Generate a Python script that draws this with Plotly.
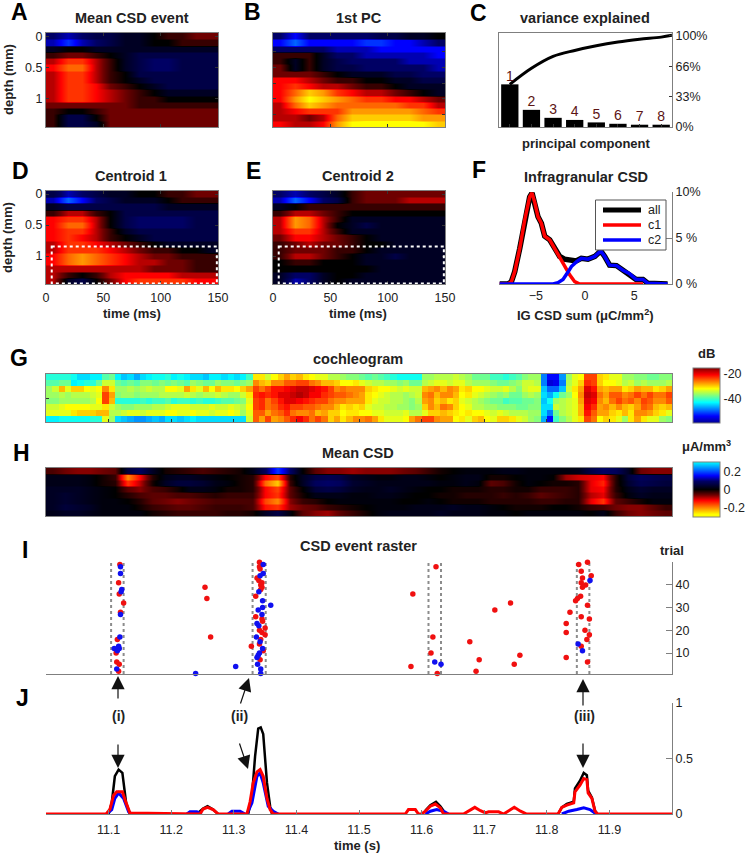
import numpy as np
import plotly.graph_objects as go

W, H = 746, 853
GRAY = "#7f7f7f"
INK = "#222222"
FONT = "Liberation Sans"

# depth/time grid shared by the four CSD panels (A, B, D, E)
CSD_TIME = [6, 19, 31, 44, 56, 69, 81, 94, 106, 119, 131, 144]
CSD_DEPTH = [0, 0.1, 0.2, 0.3, 0.4, 0.5, 0.6, 0.7, 0.8, 0.9, 1.0, 1.1, 1.2, 1.3, 1.4]

MEAN_EVENT = [
    [3, 4, 3, 2, 2, 1, 1, 0, -1, -1, -2, -2],
    [4, 6, 4, 3, 2, 1, 1, 0, 0, -1, -1, -1],
    [1, 0, 0, 1, 1, 1, 1, 1, 1, 1, 1, 1],
    [-1, -2, -2, -1, 0, 1, 2, 2, 2, 2, 2, 2],
    [-3, -5, -5, -3, -1, 1, 2, 3, 3, 2, 2, 2],
    [-4, -6, -6, -3, -1, 1, 2, 3, 3, 2, 2, 2],
    [-3, -5, -5, -3, -1, 0, 2, 2, 2, 2, 2, 2],
    [-3, -5, -5, -3, -1, 0, 1, 2, 2, 2, 2, 2],
    [-3, -5, -5, -4, -2, -1, 0, 1, 2, 2, 2, 2],
    [-3, -5, -5, -4, -3, -2, -1, 0, 1, 1, 1, 1],
    [-3, -5, -5, -4, -3, -2, -1, -1, 0, 0, 0, 0],
    [-2, -2, -2, -2, -2, -2, -1, -1, -1, -1, -1, -1],
    [-1, 0, 0, -1, -2, -2, -2, -2, -2, -2, -2, -2],
    [-1, 2, 2, 0, -2, -2, -2, -2, -2, -2, -2, -2],
    [-1, 2, 2, 1, -2, -2, -2, -2, -2, -2, -2, -2],
]
FIRST_PC = [
    [3, 5, 3, 3, 3, 3, 3, 2, 2, 1, 1, 0],
    [5, 7, 5, 5, 5, 5, 6, 6, 5, 5, 4, 3],
    [3, 3, 3, 3, 4, 4, 4, 5, 5, 5, 5, 5],
    [-1, -1, -1, 1, 3, 3, 4, 4, 4, 4, 4, 5],
    [-1, 1, -1, 1, 2, 3, 3, 3, 3, 4, 4, 4],
    [-2, 1, -1, 1, 2, 2, 3, 3, 3, 3, 3, 4],
    [-2, -2, -2, -1, 0, 1, 1, 1, 2, 2, 3, 3],
    [-4, -4, -3, -2, -1, -1, 0, 0, 1, 1, 2, 2],
    [-4, -5, -4, -3, -3, -2, -1, -1, 0, 1, 1, 1],
    [-4, -6, -8, -7, -5, -4, -3, -3, -2, -1, 0, 1],
    [-4, -7, -9, -8, -7, -6, -5, -5, -4, -4, -3, -2],
    [-3, -6, -8, -7, -6, -6, -6, -6, -6, -5, -5, -3],
    [-3, -4, -5, -5, -5, -7, -7, -7, -7, -7, -6, -5],
    [-3, -3, -2, -3, -6, -8, -8, -8, -8, -8, -7, -7],
    [-4, -3, -3, -4, -7, -9, -10, -10, -10, -10, -9, -8],
]
CENTROID_1 = [
    [2, 4, 3, 2, 1, 1, 0, 0, -1, -1, -2, -2],
    [4, 7, 5, 3, 2, 1, 1, 1, 0, -1, -1, -1],
    [1, 2, 2, 2, 2, 2, 2, 2, 1, 1, 1, 1],
    [-1, -3, -3, -1, 0, 2, 2, 2, 2, 2, 2, 2],
    [-4, -5, -5, -3, 0, 2, 3, 3, 3, 3, 2, 2],
    [-4, -6, -6, -3, 0, 2, 3, 3, 3, 3, 2, 2],
    [-4, -5, -5, -3, -1, 1, 2, 2, 2, 2, 2, 2],
    [-4, -5, -4, -3, -1, 0, 1, 2, 2, 2, 2, 2],
    [-3, -5, -5, -4, -3, -2, -1, 0, 1, 1, 1, 1],
    [-3, -5, -5, -5, -4, -3, -2, -1, -1, 0, 0, 1],
    [-4, -6, -7, -6, -5, -4, -3, -2, -2, -1, -1, -1],
    [-4, -6, -7, -6, -5, -4, -3, -3, -2, -2, -1, -1],
    [-3, -3, -3, -3, -3, -3, -3, -2, -2, -2, -1, -1],
    [-3, -1, 0, -1, -3, -4, -4, -4, -4, -3, -3, -3],
    [-3, 1, 2, 0, -2, -4, -5, -5, -5, -5, -4, -4],
]
CENTROID_2 = [
    [3, 4, 3, 2, 1, -1, -2, -2, -2, -2, -2, -2],
    [4, 7, 5, 3, 2, -1, -2, -2, -2, -3, -3, -3],
    [1, 0, -1, -1, -1, -1, -1, -1, -1, -1, -1, -1],
    [-1, -3, -3, -2, -1, 0, 0, 0, 0, 0, 0, 0],
    [-3, -7, -6, -3, -1, 1, 1, 1, 1, 1, 1, 1],
    [-3, -7, -6, -3, 0, 1, 2, 1, 1, 1, 1, 1],
    [-3, -5, -5, -3, -1, 1, 1, 1, 1, 1, 1, 1],
    [-2, -4, -4, -3, -2, -1, 0, 1, 1, 1, 1, 1],
    [-1, -2, -3, -2, -2, -1, 0, 0, 1, 1, 1, 1],
    [-1, -2, -2, -2, -1, -1, 0, 1, 1, 1, 1, 1],
    [-1, -3, -3, -2, -1, 0, 1, 1, 2, 1, 1, 1],
    [0, -1, -1, 0, 0, 0, 1, 1, 1, 1, 1, 1],
    [0, 0, 0, 0, 0, 0, 0, 1, 1, 1, 1, 1],
    [1, 3, 3, 1, 0, 0, 1, 1, 1, 1, 1, 1],
    [1, 4, 3, 1, 0, 1, 1, 1, 1, 1, 1, 1],
]

# C: variance explained
PC_INDEX = [1, 2, 3, 4, 5, 6, 7, 8]
PC_VAR = [46.5, 18.7, 10, 7.7, 5, 3.5, 2.5, 2.5]
PC_CUM_X = [1, 2, 3, 4, 5, 6, 7, 8, 8.5]
PC_CUM = [46.5, 64, 77, 83.5, 88.6, 92.6, 95.6, 98, 100]

# F: infragranular CSD histograms
C1_X = [-8.68, -7.83, -7.49, -7.15, -6.64, -6.14, -5.63, -5.39, -5.12, -4.78, -4.44, -4.1, -3.59, -3.08, -2.58,
        -2.07, -1.56, -1.05, -0.54, 5.9]
C1_Y = [0, 0, 0.25, 1.34, 3.86, 6.93, 9.46, 9.89, 8.9, 7.3, 6.6, 5.2, 4.8, 3.8, 2.9, 1.9, 1.0, 0.25, 0, 0]
C2_X = [-8.68, -3.25, -2.75, -2.24, -1.73, -1.39, -0.88, -0.37, 0.3, 1.0, 1.6, 2.0, 2.5, 3.2, 3.86, 4.5, 5.2, 5.9,
        6.4, 8.4]
C2_Y = [0, 0, 0.15, 0.5, 1.3, 1.9, 2.4, 2.8, 2.7, 3.0, 3.6, 3.0, 2.05, 2.0, 1.5, 1.15, 0.5, 0.5, 0.07, 0]
ALL_X = [-8.68, -7.83, -7.49, -7.15, -6.64, -6.14, -5.63, -5.39, -5.12, -4.78, -4.44, -4.1, -3.59, -3.08, -2.58,
         -2.1, -1.7, -1.3, -0.9, -0.37, 0.3, 1.0, 1.6, 2.0, 2.5, 3.2, 3.86, 4.5, 5.2, 5.9, 6.4, 8.4]
ALL_Y = [0, 0, 0.25, 1.34, 3.86, 6.93, 9.46, 9.89, 8.9, 7.3, 6.6, 5.2, 4.8, 3.8, 3.0,
         2.7, 2.6, 2.65, 2.5, 2.8, 2.7, 3.0, 3.6, 3.0, 2.05, 2.0, 1.5, 1.15, 0.5, 0.5, 0.07, 0]
LEGEND_ITEMS = [("all", "black", 5), ("c1", "#ff0000", 3.5), ("c2", "#0000ff", 3.5)]

# G: cochleogram, dB, 8 bands x 100 bins of 10 ms
COCHLEOGRAM = [
    [-41, -41, -41, -41, -42, -44, -44, -43, -43, -39, -38, -43, -45, -44, -46, -44, -43, -42, -42, -41,
     -43, -42, -43, -44, -44, -45, -43, -43, -44, -43, -44, -43, -40, -31, -31, -34, -32, -30, -28, -30,
     -29, -31, -32, -33, -33, -35, -35, -36, -37, -37, -38, -39, -38, -39, -40, -41, -42, -42, -42, -42,
     -36, -36, -35, -35, -35, -34, -35, -36, -38, -38, -38, -40, -40, -41, -40, -39, -37, -36, -36, -48,
     -53, -53, -47, -36, -33, -32, -24, -24, -30, -31, -33, -33, -36, -36, -37, -37, -38, -38, -37, -37],
    [-39, -39, -38, -38, -43, -42, -41, -41, -38, -34, -34, -38, -39, -38, -39, -37, -37, -38, -37, -38,
     -37, -38, -39, -36, -37, -38, -38, -36, -37, -37, -38, -37, -36, -27, -29, -30, -27, -27, -25, -25,
     -24, -24, -26, -27, -29, -29, -30, -32, -32, -31, -33, -34, -35, -35, -36, -36, -37, -36, -38, -38,
     -35, -34, -33, -33, -34, -33, -33, -35, -36, -36, -36, -37, -38, -38, -37, -36, -34, -34, -35, -48,
     -55, -54, -48, -35, -33, -30, -23, -24, -30, -32, -32, -33, -35, -34, -36, -35, -36, -36, -36, -35],
    [-36, -34, -29, -33, -30, -30, -32, -33, -32, -27, -31, -36, -36, -35, -36, -35, -34, -35, -35, -32,
     -32, -33, -28, -31, -33, -29, -32, -29, -31, -31, -32, -30, -28, -24, -26, -24, -22, -22, -21, -20,
     -19, -19, -20, -21, -22, -24, -27, -26, -27, -27, -27, -30, -31, -32, -32, -33, -34, -33, -34, -34,
     -29, -28, -27, -29, -27, -28, -31, -30, -32, -32, -33, -34, -34, -33, -35, -37, -34, -33, -33, -45,
     -49, -49, -45, -34, -31, -28, -20, -22, -28, -29, -28, -28, -31, -30, -28, -29, -29, -31, -30, -28],
    [-36, -36, -35, -36, -35, -35, -35, -34, -33, -24, -28, -37, -36, -36, -37, -36, -36, -36, -35, -35,
     -35, -35, -34, -35, -36, -35, -35, -34, -35, -36, -36, -34, -31, -23, -22, -23, -22, -20, -20, -19,
     -18, -19, -21, -21, -23, -24, -25, -25, -26, -27, -28, -31, -32, -33, -34, -35, -35, -36, -35, -34,
     -27, -26, -29, -27, -27, -29, -32, -31, -33, -34, -35, -36, -37, -36, -38, -38, -36, -35, -36, -44,
     -46, -42, -38, -36, -32, -27, -19, -20, -26, -28, -25, -25, -27, -26, -24, -26, -24, -26, -26, -24],
    [-37, -37, -36, -36, -36, -36, -36, -35, -32, -24, -29, -41, -41, -41, -41, -40, -41, -40, -40, -39,
     -41, -40, -40, -41, -40, -41, -41, -40, -39, -39, -38, -37, -33, -24, -23, -26, -24, -22, -20, -20,
     -21, -22, -23, -24, -24, -26, -27, -27, -28, -28, -28, -31, -33, -34, -34, -35, -35, -36, -37, -35,
     -28, -27, -30, -29, -31, -30, -33, -34, -35, -36, -37, -38, -38, -40, -39, -39, -38, -38, -37, -45,
     -42, -36, -35, -34, -33, -28, -20, -21, -27, -29, -26, -24, -26, -25, -27, -24, -25, -27, -27, -25],
    [-34, -34, -33, -32, -32, -32, -32, -33, -33, -31, -34, -36, -37, -37, -36, -36, -36, -35, -35, -34,
     -33, -33, -33, -34, -34, -34, -33, -34, -34, -33, -34, -35, -32, -24, -23, -26, -25, -23, -22, -24,
     -24, -25, -25, -26, -27, -27, -29, -31, -30, -31, -30, -33, -34, -34, -35, -35, -36, -36, -37, -36,
     -30, -27, -29, -26, -27, -30, -32, -33, -35, -35, -36, -36, -37, -37, -37, -38, -38, -37, -37, -44,
     -44, -34, -35, -34, -33, -29, -21, -23, -28, -27, -29, -27, -29, -30, -28, -25, -26, -29, -30, -29],
    [-33, -33, -33, -33, -31, -30, -30, -30, -29, -29, -35, -35, -34, -33, -33, -34, -33, -33, -33, -32,
     -32, -33, -33, -32, -33, -33, -34, -33, -33, -32, -33, -36, -33, -25, -25, -28, -26, -25, -23, -26,
     -27, -27, -26, -29, -28, -30, -30, -32, -31, -31, -32, -32, -33, -33, -34, -34, -34, -33, -35, -35,
     -33, -30, -30, -29, -30, -31, -32, -31, -32, -32, -33, -34, -33, -34, -35, -35, -35, -36, -36, -44,
     -48, -38, -35, -34, -33, -29, -22, -25, -28, -28, -30, -31, -29, -31, -27, -27, -28, -30, -31, -33],
    [-43, -43, -42, -42, -42, -42, -42, -41, -41, -33, -36, -44, -45, -46, -47, -47, -46, -45, -46, -44,
     -44, -45, -44, -43, -44, -44, -44, -44, -44, -44, -44, -44, -34, -25, -28, -24, -28, -27, -25, -23,
     -21, -23, -26, -24, -26, -30, -28, -31, -29, -27, -27, -26, -28, -31, -33, -33, -33, -32, -28, -26,
     -24, -24, -27, -28, -28, -32, -31, -33, -30, -29, -32, -33, -30, -30, -31, -33, -34, -36, -37, -46,
     -53, -40, -37, -35, -33, -31, -24, -26, -32, -30, -31, -33, -36, -31, -28, -31, -33, -33, -36, -37],
]

# H: mean CSD, hundredths of uA/mm3, 8 rows x 50 bins of 20 ms
MEAN_CSD = [
    [-4, -6, -7, -7, -6, -5, 5, 8, 3, -1, -2, -3, -4, -3, -2, -1, 2, 8, 18, 9, 0, -5, -7, -7, -8,
     -7, -7, -7, -6, -5, -3, -1, 0, 1, 1, 1, 2, 2, 1, 1, 1, 1, 2, 6, 9, 8, 3, -6, -7, -7],
    [2, 2, 2, 1, -1, -3, -20, -12, -2, 2, 3, 3, 2, 1, 0, -1, -2, -12, -16, -2, 3, 6, 7, 6, 3,
     2, 1, 1, 2, 2, 1, 0, 1, 2, 2, -1, -1, 0, 1, 1, 0, -8, -10, -11, -12, -2, 5, 8, 7, 6],
    [2, 2, 2, 1, -1, -2, -15, -9, -1, 3, 5, 5, 4, 2, 1, -1, -2, -18, -24, -3, 3, 8, 9, 8, 4,
     3, 2, 2, 2, 2, 2, 1, 1, 2, 1, -5, -4, -1, 1, 0, -1, -1, -2, -11, -14, -2, 4, 7, 6, 5],
    [3, 3, 3, 2, 1, 0, -5, -7, -4, -3, -1, 2, 2, 1, -1, -1, -2, -12, -16, -5, 0, 5, 6, 5, 3,
     2, 2, 3, 2, 1, 0, 0, -1, -1, -1, -2, -2, -1, -1, -3, -3, -3, -2, -11, -12, -2, 2, 4, 3, 3],
    [3, 4, 3, 2, 1, 0, -2, -4, -5, -5, -4, -4, -3, -2, -3, -3, -3, -12, -15, -5, -1, 2, 2, 2, 1,
     1, 2, 2, 1, 0, 0, -1, -1, -2, -2, -2, -3, -2, -3, -5, -4, -3, -2, -9, -11, -3, 1, 3, 2, 2],
    [3, 4, 3, 2, 1, 1, 0, -2, -5, -6, -7, -6, -5, -4, -4, -4, -4, -16, -20, -7, -3, -2, 0, 1, 1,
     1, 1, 1, 0, 0, 1, 0, -1, -1, -1, -2, -2, -2, -2, -3, -3, -2, -2, -11, -15, -5, -3, -1, 1, 1],
    [3, 5, 4, 3, 1, 1, 1, -1, -3, -4, -5, -5, -4, -3, -3, -3, -4, -13, -15, -8, -6, -5, -3, -2, -1,
     0, 1, 1, 1, 2, 2, 2, 3, 2, 2, 1, 0, -1, -1, -1, 0, 0, -1, -3, -4, -6, -7, -7, -5, -3],
    [2, 3, 3, 2, 1, 1, 1, 1, -1, -2, -3, -3, -3, -3, -2, -2, -1, 3, 6, 1, -5, -7, -8, -5, -3,
     -1, 1, 2, 2, 2, 2, 3, 2, 2, 2, 1, 1, 0, 1, 1, 1, 1, 1, 0, 2, -3, -6, -7, -6, -5],
]

# I: raster, event time (s) and trial number
RED_T = [11.118, 11.116, 11.117, 11.124, 11.119, 11.114, 11.112, 11.113, 11.117, 11.116,
         11.254, 11.257, 11.263,
         11.341, 11.341, 11.342, 11.337, 11.340, 11.345, 11.343, 11.345, 11.343, 11.335, 11.335, 11.345, 11.346,
         11.350, 11.341, 11.345, 11.350, 11.343, 11.341, 11.328, 11.347, 11.342,
         11.586, 11.583, 11.623, 11.618, 11.615, 11.625, 11.677, 11.717, 11.742, 11.692, 11.687, 11.757, 11.748,
         11.851, 11.865, 11.855, 11.871, 11.857, 11.855, 11.862, 11.857, 11.854, 11.849, 11.846, 11.865, 11.837,
         11.855, 11.868, 11.831, 11.861, 11.831, 11.868, 11.864, 11.855, 11.831, 11.865]
RED_TRIAL = [49, 41, 36, 32, 28, 16, 10, 6, 5, 2,
             39, 34, 17,
             50, 48, 47, 43, 42, 41, 40, 39, 38, 35, 26, 25, 24,
             21, 20, 19, 18, 16, 14, 13, 11, 7,
             36, 4, 48, 17, 10, 1, 15, 29, 32, 7, 2, 9, 5,
             49, 50, 46, 44, 43, 41, 40, 39, 35, 34, 33, 31, 28,
             26, 25, 23, 20, 19, 18, 16, 13, 8, 6]
BLUE_T = [11.119, 11.119, 11.121, 11.120, 11.119, 11.118, 11.116, 11.109, 11.117, 11.114, 11.113,
          11.239, 11.303,
          11.347, 11.347, 11.342, 11.340, 11.346, 11.359, 11.346, 11.339, 11.345, 11.337, 11.340, 11.336, 11.342,
          11.346, 11.341, 11.339, 11.337, 11.338, 11.343, 11.343,
          11.621, 11.631, 11.869, 11.850, 11.857]
BLUE_TRIAL = [48, 45, 38, 37, 27, 17, 13, 12, 12, 11, 3,
              1, 4,
              49, 45, 44, 37, 33, 31, 30, 29, 27, 23, 22, 17, 15,
              12, 10, 9, 8, 5, 3, 1,
              6, 5, 42, 14, 11]
WINDOWS = [(11.104, 11.124), (11.330, 11.351), (11.611, 11.631), (11.848, 11.868)]

# J: population traces
BLACK_T = [11.100, 11.105, 11.110, 11.116, 11.122, 11.128, 11.134, None,
           11.241, 11.251, 11.258, 11.267, 11.275, None,
           11.323, 11.329, 11.334, 11.339, 11.343, 11.347, 11.353, 11.358, 11.361, None,
           11.606, 11.614, 11.623, 11.630, 11.635, None,
           11.818, 11.824, 11.832, 11.843, 11.845, 11.853, 11.859, 11.864, 11.866, 11.872, 11.877, 11.881]
BLACK_Y = [0, 0.10, 0.34, 0.40, 0.37, 0.10, 0, None,
           0, 0.05, 0.07, 0.04, 0, None,
           0, 0.16, 0.52, 0.77, 0.78, 0.72, 0.28, 0.07, 0, None,
           0.03, 0.08, 0.11, 0.07, 0.03, None,
           0, 0.06, 0.09, 0.11, 0.23, 0.30, 0.37, 0.35, 0.21, 0.15, 0.03, 0]
BLUE_LINE_T = [11.097, 11.105, 11.110, 11.116, 11.124, 11.132, 11.137, None,
               11.225, 11.230, 11.241, 11.249, None, 11.291, 11.297, 11.310, 11.318, None,
               11.321, 11.329, 11.337, 11.342, 11.347, 11.355, 11.363, 11.371, None,
               11.606, 11.614, 11.624, 11.635, 11.643, None,
               11.824, 11.835, 11.848, 11.859, 11.869, 11.879]
BLUE_LINE_Y = [0, 0.04, 0.14, 0.19, 0.14, 0.02, 0, None,
               0, 0.02, 0.02, 0, None, 0, 0.025, 0.025, 0, None,
               0, 0.10, 0.34, 0.37, 0.28, 0.07, 0.025, 0, None,
               0, 0.025, 0.04, 0.025, 0, None,
               0, 0.025, 0.04, 0.055, 0.04, 0]
RED_LINE_T = [11.0, 11.096, 11.102, 11.108, 11.113, 11.122, 11.128, 11.134,
              11.246, 11.251, 11.258, 11.267, 11.275,
              11.321, 11.326, 11.331, 11.337, 11.342, 11.347, 11.353, 11.358, 11.363,
              11.574, 11.579, 11.590, 11.595, 11.600, 11.606, 11.614, 11.622, 11.630, 11.635,
              11.667, 11.675, 11.685, 11.694, 11.702, 11.707, 11.723, 11.731, 11.739, 11.748, 11.758, 11.768,
              11.818, 11.824, 11.832, 11.843, 11.845, 11.853, 11.859, 11.864, 11.866, 11.872, 11.877, 11.881, 12.0]
RED_LINE_Y = [0, 0, 0.04, 0.17, 0.20, 0.20, 0.10, 0.01,
              0, 0.045, 0.06, 0.04, 0,
              0, 0.11, 0.28, 0.38, 0.40, 0.34, 0.14, 0.04, 0,
              0, 0.04, 0.04, 0, 0, 0.025, 0.07, 0.09, 0.055, 0,
              0, 0.03, 0.06, 0.03, 0.01, 0.02, 0.02, 0, 0.03, 0.06, 0.025, 0,
              0, 0.06, 0.08, 0.10, 0.20, 0.26, 0.32, 0.31, 0.19, 0.14, 0.025, 0, 0]

HOTCOLD = [[0, "rgb(255,255,0)"], [0.05, "rgb(255,255,0)"], [0.3, "rgb(255,0,0)"], [0.4, "rgb(110,0,0)"],
           [0.5, "rgb(0,0,0)"], [0.6, "rgb(0,0,70)"], [0.65, "rgb(0,0,100)"], [0.75, "rgb(0,0,255)"],
           [1, "rgb(0,255,255)"]]
JET = [[0, "rgb(0,0,143)"], [0.125, "rgb(0,0,255)"], [0.375, "rgb(0,255,255)"],
       [0.625, "rgb(255,255,0)"], [0.875, "rgb(255,0,0)"], [1, "rgb(128,0,0)"]]

fig = go.Figure()


def suffix(n):
    return "" if n == 1 else str(n)


def place_axes(n, box, xopts, yopts):
    # box is (left, top, right, bottom) in page pixels
    l, t, r, b = box
    s = suffix(n)
    base = dict(showgrid=False, zeroline=False, showline=True, linecolor=GRAY, linewidth=1,
                tickfont=dict(size=12.5, color=INK), tickcolor="#333333", ticklen=3, tickwidth=1)
    fig.update_layout(**{
        f"xaxis{s}": {**base, "domain": [l / W, r / W], "anchor": f"y{s}", **xopts},
        f"yaxis{s}": {**base, "domain": [1 - b / H, 1 - t / H], "anchor": f"x{s}", **yopts},
    })


def text_at(x, y, text, size=13, bold=True, color=INK, angle=0, xanchor="center"):
    fig.add_annotation(x=x / W, y=1 - y / H, xref="paper", yref="paper", text=f"<b>{text}</b>" if bold else text,
                       showarrow=False, font=dict(size=size, color=color), textangle=angle,
                       xanchor=xanchor, yanchor="middle")


def arrow(x0, y0, x1, y1):
    fig.add_annotation(x=x1 / W, y=1 - y1 / H, xref="paper", yref="paper", ax=x0 - x1, ay=y0 - y1, text="",
                       showarrow=True, arrowhead=2, arrowsize=2.2, arrowwidth=1.2, arrowcolor="#111111")


def banded(z, k):
    # rows stay as flat bands; smoothing then only acts along time
    return np.repeat(np.array(z, dtype=float), k, axis=0)


# ---------- CSD heatmaps ----------
csd_x = dict(range=[0, 150], tickvals=[0, 50, 100, 150], ticks="inside", mirror="ticks")
csd_y = dict(range=[1.45, -0.05], ticks="inside", mirror="ticks")
csd_panels = [
    (1, MEAN_EVENT, (46, 33, 218, 127), False, True),
    (2, FIRST_PC, (273, 33, 445, 127), False, False),
    (4, CENTROID_1, (46, 191, 218, 284), True, True),
    (5, CENTROID_2, (273, 191, 445, 284), True, False),
]
for n, z, box, show_x, show_y in csd_panels:
    s = suffix(n)
    fig.add_trace(go.Heatmap(x=CSD_TIME, y0=CSD_DEPTH[0] - 0.0375, dy=0.025, z=banded(z, 4), colorscale=HOTCOLD,
                             zmin=-10, zmax=10, zsmooth="best", showscale=False, xaxis=f"x{s}", yaxis=f"y{s}"))
    yticks = dict(tickvals=[0.25, 0.5, 0.75, 1, 1.25] if n == 2 else [0, 0.5, 1],
                  ticktext=["0", "0.5", "1"] if n != 2 else None)
    place_axes(n, box, {**csd_x, "showticklabels": show_x, "ticklabelstandoff": 2},
               {**csd_y, **yticks, "showticklabels": show_y})

for n in (4, 5):
    s = suffix(n)
    fig.add_shape(type="rect", xref=f"x{s}", yref=f"y{s}", x0=5, x1=149, y0=0.845, y1=1.44,
                  line=dict(color="white", width=2, dash="dot"))

# ---------- C: variance explained ----------
fig.add_trace(go.Bar(x=PC_INDEX, y=PC_VAR, width=0.8, marker=dict(color="black", line=dict(width=0)),
                     xaxis="x3", yaxis="y3"))
fig.add_trace(go.Scatter(x=PC_CUM_X, y=PC_CUM, mode="lines", line=dict(color="black", width=3, shape="spline"),
                         xaxis="x3", yaxis="y3"))
fig.add_trace(go.Scatter(x=PC_INDEX, y=PC_VAR, mode="text", text=[str(i) for i in PC_INDEX],
                         textposition="top center", textfont=dict(size=14, color="#5c1414"), cliponaxis=False,
                         xaxis="x3", yaxis="y3"))
place_axes(3, (499, 33, 672, 127),
           dict(range=[0.5, 8.5], tickvals=PC_INDEX, showticklabels=False, ticks="inside", mirror=True),
           dict(range=[0, 102.5], side="right", tickvals=[0, 33, 66, 100], ticktext=["0%", "33%", "66%", "100%"],
                ticks="inside", mirror=True))

# ---------- F: infragranular CSD ----------
fig.add_trace(go.Scatter(x=ALL_X, y=ALL_Y, mode="lines", line=dict(color="black", width=5.5),
                         cliponaxis=False, xaxis="x6", yaxis="y6"))
fig.add_trace(go.Scatter(x=C1_X, y=C1_Y, mode="lines", line=dict(color="#ff0000", width=3.5),
                         cliponaxis=False, xaxis="x6", yaxis="y6"))
fig.add_trace(go.Scatter(x=C2_X, y=C2_Y, mode="lines", line=dict(color="#0000ff", width=3.5),
                         cliponaxis=False, xaxis="x6", yaxis="y6"))
place_axes(6, (499, 192, 672, 284),
           dict(range=[-8.75, 8.85], tickvals=[-5, 0, 5], ticks=""),
           dict(range=[0, 10], side="right", tickvals=[0, 5, 10], ticktext=["0 %", "5 %", "10%"], ticks="inside",
                ticklen=6, tickcolor=GRAY))

# legend box of F, tight like the original
fig.add_shape(type="rect", xref="paper", yref="paper", x0=595.5 / W, x1=666 / W, y0=1 - 200 / H, y1=1 - 250 / H,
              fillcolor="white", line=dict(color="#555555", width=1))
for i, (label, color, width) in enumerate(LEGEND_ITEMS):
    y = 210 + 15 * i
    fig.add_shape(type="line", xref="paper", yref="paper", x0=603 / W, x1=641 / W, y0=1 - y / H, y1=1 - y / H,
                  line=dict(color=color, width=width))
    text_at(646, y, label, size=12.5, bold=False, xanchor="left")

# ---------- G: cochleogram ----------
time_ticks = [11.1, 11.2, 11.3, 11.4, 11.5, 11.6, 11.7, 11.8, 11.9]
fig.add_trace(go.Heatmap(z=COCHLEOGRAM, x0=11.005, dx=0.01, y0=0, dy=1, colorscale=JET, zmin=-58.5, zmax=-16,
                         xaxis="x7", yaxis="y7",
                         colorbar=dict(x=693 / W, xanchor="left", xpad=0, y=1 - 368 / H, yanchor="top", ypad=0,
                                       len=55, lenmode="pixels", thickness=27, thicknessmode="pixels",
                                       tickvals=[-20, -40], ticktext=["-20", "-40"], ticks="", outlinecolor=GRAY,
                                       outlinewidth=1, tickfont=dict(size=12.5, color=INK))))
place_axes(7, (46, 374, 672, 422),
           dict(range=[11, 12], tickvals=time_ticks, showticklabels=False, ticks="inside", mirror=True),
           dict(range=[7.5, -0.5], tickvals=[3.5], showticklabels=False, ticks="inside", mirror=True))

# ---------- H: mean CSD ----------
fig.add_trace(go.Heatmap(z=banded(MEAN_CSD, 3) / 100, x0=11.01, dx=0.02, y0=-1 / 3, dy=1 / 3,
                         colorscale=HOTCOLD, zmin=-0.3, zmax=0.3, zsmooth="best", xaxis="x8", yaxis="y8",
                         colorbar=dict(x=693 / W, xanchor="left", xpad=0, y=1 - 462 / H, yanchor="top", ypad=0,
                                       len=55, lenmode="pixels", thickness=27, thicknessmode="pixels",
                                       tickvals=[0.2, 0, -0.2], ticktext=["0.2", "0", "-0.2"], ticks="",
                                       outlinecolor=GRAY, outlinewidth=1,
                                       tickfont=dict(size=12.5, color=INK))))
place_axes(8, (46, 468, 672, 516),
           dict(range=[11, 12], showticklabels=False, ticks="", mirror=True),
           dict(range=[7.5, -0.5], showticklabels=False, ticks="", mirror=True))

# ---------- I: event raster ----------
for t0, t1 in WINDOWS:
    for t in (t0, t1):
        fig.add_shape(type="line", xref="x9", yref="y9", x0=t, x1=t, y0=0.75, y1=50.1, layer="below",
                      line=dict(color="#8c8c8c", width=2, dash="dot"))
fig.add_trace(go.Scatter(x=RED_T, y=RED_TRIAL, mode="markers", marker=dict(color="#f01010", size=5.5),
                         cliponaxis=False, xaxis="x9", yaxis="y9"))
fig.add_trace(go.Scatter(x=BLUE_T, y=BLUE_TRIAL, mode="markers", marker=dict(color="#1010f0", size=5.5),
                         cliponaxis=False, xaxis="x9", yaxis="y9"))
place_axes(9, (46, 562, 672, 674),
           dict(range=[11, 12], showticklabels=False, ticks=""),
           dict(range=[0.75, 50.1], side="right", tickvals=[10, 20, 30, 40], ticks="inside", ticklen=6,
                tickcolor=GRAY))

# ---------- J: population traces ----------
fig.add_trace(go.Scatter(x=BLACK_T, y=BLACK_Y, mode="lines", line=dict(color="black", width=2.5),
                         connectgaps=False, cliponaxis=False, xaxis="x10", yaxis="y10"))
fig.add_trace(go.Scatter(x=BLUE_LINE_T, y=BLUE_LINE_Y, mode="lines", line=dict(color="#0000ff", width=3),
                         connectgaps=False, cliponaxis=False, xaxis="x10", yaxis="y10"))
fig.add_trace(go.Scatter(x=RED_LINE_T, y=RED_LINE_Y, mode="lines", line=dict(color="#ff0000", width=3),
                         cliponaxis=False, xaxis="x10", yaxis="y10"))
place_axes(10, (46, 703, 672, 814),
           dict(range=[11, 12], tickvals=time_ticks, ticktext=[str(t) for t in time_ticks], ticks="inside",
                tickcolor=GRAY, ticklen=4, ticklabelstandoff=4),
           dict(range=[0, 1], side="right", tickvals=[0, 0.5, 1], ticktext=["0", "0.5", "1"], ticks="inside",
                ticklen=6, tickcolor=GRAY))

# ---------- texts ----------
for letter, x, y in [("A", 19, 12), ("B", 252, 12), ("C", 478, 13), ("D", 20, 171), ("E", 253, 171), ("F", 479, 170),
                     ("G", 19, 358), ("H", 21, 453), ("I", 25, 550), ("J", 22, 698)]:
    text_at(x, y, letter, size=23, color="black")

for label, x, y in [("Mean CSD event", 132, 18), ("1st PC", 359, 18), ("variance explained", 585, 18),
                    ("Centroid 1", 131, 176), ("Centroid 2", 358, 176), ("Infragranular CSD", 586, 177),
                    ("cochleogram", 358, 359), ("Mean CSD", 358, 453), ("CSD event raster", 358, 546)]:
    text_at(x, y, label, size=14.5)

for label, x, y in [("dB", 706, 353), ("μA/mm<sup>3</sup>", 706, 446), ("trial", 672, 550),
                    ("time (ms)", 132, 314), ("time (ms)", 358, 314), ("principal component", 586, 143),
                    ("IG CSD sum (μC/mm<sup>2</sup>)", 585, 315), ("time (s)", 357, 845)]:
    text_at(x, y, label)

for label, x, y in [("(i)", 118, 716), ("(ii)", 239, 716), ("(iii)", 584, 716)]:
    text_at(x, y, label, size=14)

text_at(8, 80, "depth (mm)", angle=-90)
text_at(8, 238, "depth (mm)", angle=-90)

arrow(118, 700, 118, 676)
arrow(240, 705, 249, 678)
arrow(583, 707, 583, 679)
arrow(118, 743, 118, 768)
arrow(239, 742, 248, 769)
arrow(583, 742, 583, 768)

fig.update_layout(
    width=W, height=H,
    margin=dict(l=0, r=0, t=0, b=0, autoexpand=False),
    paper_bgcolor="white", plot_bgcolor="white",
    font=dict(family=FONT, color=INK),
    showlegend=False,
)

# the page body keeps its default 8px margin otherwise
fig.write_html("out.html", config=dict(displayModeBar=False), post_script="document.body.style.margin = '0';")
